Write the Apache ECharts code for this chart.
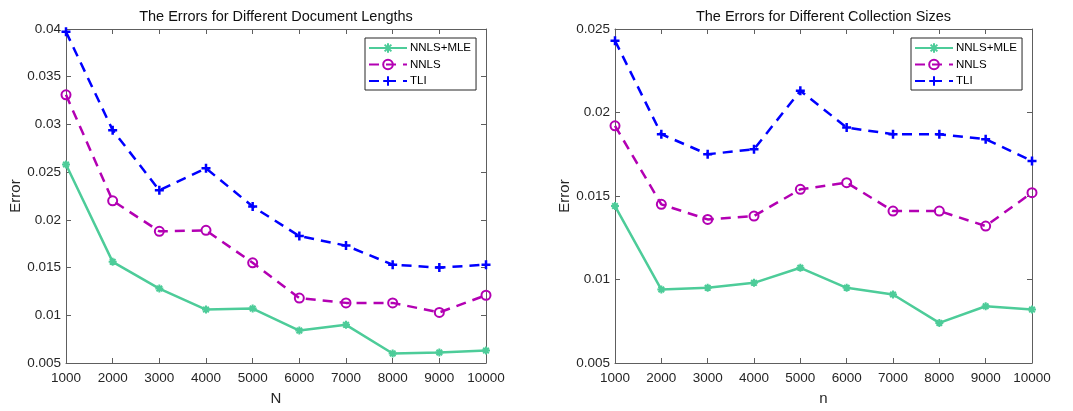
<!DOCTYPE html>
<html>
<head>
<meta charset="utf-8">
<title>Errors for Different Document Lengths and Collection Sizes</title>
<script src="https://cdn.jsdelivr.net/npm/echarts@6/dist/echarts.min.js"></script>
<style>
  html, body { margin: 0; padding: 0; background: #fff; }
  #chart { width: 1073px; height: 411px; }
</style>
</head>
<body>
<div id="chart"></div>
<script>
// Sample sizes shared by both panels
const sizes = [1000, 2000, 3000, 4000, 5000, 6000, 7000, 8000, 9000, 10000];

// Left panel: error vs. document length N
const mleByLength  = [0.0258, 0.0156, 0.0128, 0.0106, 0.0107, 0.0084, 0.0090, 0.0060, 0.0061, 0.0063];
const nnlsByLength = [0.0331, 0.0220, 0.0188, 0.0189, 0.0155, 0.0118, 0.0113, 0.0113, 0.0103, 0.0121];
const tliByLength  = [0.0397, 0.0294, 0.0231, 0.0254, 0.0214, 0.0183, 0.0173, 0.0153, 0.0150, 0.0153];

// Right panel: error vs. collection size n
const mleBySize  = [0.0144, 0.0094, 0.0095, 0.0098, 0.0107, 0.0095, 0.0091, 0.0074, 0.0084, 0.0082];
const nnlsBySize = [0.0192, 0.0145, 0.0136, 0.0138, 0.0154, 0.0158, 0.0141, 0.0141, 0.0132, 0.0152];
const tliBySize  = [0.0243, 0.0187, 0.0175, 0.0178, 0.0213, 0.0191, 0.0187, 0.0187, 0.0184, 0.0171];

const seriesNames = ['NNLS+MLE', 'NNLS', 'TLI'];
const titles = ['The Errors for Different Document Lengths', 'The Errors for Different Collection Sizes'];
const xNames = ['N', 'n'];
const yMax = [0.04, 0.025];

const FONT = '"Liberation Sans", Arial, Helvetica, sans-serif';
const AXIS_COLOR = '#5e5e5e';
const TEXT_COLOR = '#262626';

const GREEN = '#4dcc99';
const MAGENTA = '#b300b3';
const BLUE = '#0000ff';

// Marker shapes drawn as stroked open paths
const PLUS = 'path://M0,5L10,5M5,0L5,10';
const STAR = 'path://M0,5L10,5M5,0L5,10M1.5,1.5L8.5,8.5M1.5,8.5L8.5,1.5';

const fmtY = v => String(Number(v.toFixed(4)));
const fmtX = v => String(Math.round(v));
const pairs = ys => sizes.map((x, i) => [x, ys[i]]);

const grids = [
  { left: 66, top: 29, width: 420, height: 340 },
  { left: 615, top: 29, width: 417, height: 340 }
];

const xAxes = [];
const yAxes = [];
grids.forEach((g, gi) => {
  const common = {
    gridIndex: gi,
    type: 'value',
    min: 1000, max: 10000, interval: 1000,
    axisLine: { show: true, onZero: false, lineStyle: { color: AXIS_COLOR, width: 1 } },
    axisTick: { show: true, inside: true, length: 5, lineStyle: { color: AXIS_COLOR } },
    splitLine: { show: false }
  };
  xAxes.push(Object.assign({}, common, {
    position: 'bottom',
    name: xNames[gi], nameLocation: 'middle', nameGap: 28,
    nameTextStyle: { fontFamily: FONT, fontSize: 15, color: TEXT_COLOR },
    axisLabel: { show: true, fontFamily: FONT, fontSize: 13.5, color: TEXT_COLOR, margin: 8, formatter: fmtX, showMinLabel: true, showMaxLabel: true }
  }));
  xAxes.push(Object.assign({}, common, {
    position: 'top',
    name: titles[gi], nameLocation: 'middle', nameGap: 5,
    nameTextStyle: { fontFamily: FONT, fontSize: 14.5, color: '#111', verticalAlign: 'bottom' },
    axisLabel: { show: false }
  }));
  const ycommon = {
    gridIndex: gi,
    type: 'value',
    min: 0.005, max: yMax[gi], interval: 0.005,
    axisLine: { show: true, onZero: false, lineStyle: { color: AXIS_COLOR, width: 1 } },
    axisTick: { show: true, inside: true, length: 5, lineStyle: { color: AXIS_COLOR } },
    splitLine: { show: false }
  };
  yAxes.push(Object.assign({}, ycommon, {
    position: 'left',
    name: 'Error', nameLocation: 'middle', nameGap: 42, nameRotate: 90,
    nameTextStyle: { fontFamily: FONT, fontSize: 15, color: TEXT_COLOR },
    axisLabel: { show: true, fontFamily: FONT, fontSize: 13.5, color: TEXT_COLOR, margin: 5, formatter: fmtY, showMinLabel: true, showMaxLabel: true }
  }));
  yAxes.push(Object.assign({}, ycommon, {
    position: 'right',
    axisLabel: { show: false }
  }));
});

function makeSeries(gi, name, values) {
  const base = {
    name: name,
    type: 'line',
    xAxisIndex: gi * 2,
    yAxisIndex: gi * 2,
    data: pairs(values),
    silent: true,
    emphasis: { disabled: true },
    z: 3
  };
  if (name === 'NNLS+MLE') {
    return Object.assign(base, {
      symbol: STAR, symbolSize: 8,
      lineStyle: { color: GREEN, width: 2.5, type: 'solid' },
      itemStyle: { color: GREEN, borderColor: GREEN, borderWidth: 2 }
    });
  }
  if (name === 'NNLS') {
    return Object.assign(base, {
      symbol: 'circle', symbolSize: 9,
      lineStyle: { color: MAGENTA, width: 2.5, type: [10, 7] },
      itemStyle: { color: 'rgba(255,255,255,0)', borderColor: MAGENTA, borderWidth: 2 }
    });
  }
  return Object.assign(base, {
    symbol: PLUS, symbolSize: 9,
    lineStyle: { color: BLUE, width: 2.5, type: [10, 7] },
    itemStyle: { color: BLUE, borderColor: BLUE, borderWidth: 2.5 }
  });
}

const series = [
  makeSeries(0, 'NNLS+MLE', mleByLength),
  makeSeries(0, 'NNLS', nnlsByLength),
  makeSeries(0, 'TLI', tliByLength),
  makeSeries(1, 'NNLS+MLE', mleBySize),
  makeSeries(1, 'NNLS', nnlsBySize),
  makeSeries(1, 'TLI', tliBySize)
];

const legendBase = {
  orient: 'vertical',
  top: 38,
  data: seriesNames,
  itemWidth: 38,
  itemHeight: 12,
  itemGap: 4.5,
  padding: [4, 5, 3, 3],
  backgroundColor: '#fff',
  borderColor: '#262626',
  borderWidth: 1,
  borderRadius: 0,
  selectedMode: false,
  textStyle: { fontFamily: FONT, fontSize: 11.5, color: '#000', padding: [0, 0, 0, -2] }
};

const option = {
  animation: false,
  backgroundColor: '#fff',
  grid: grids,
  xAxis: xAxes,
  yAxis: yAxes,
  legend: [
    Object.assign({}, legendBase, { left: 365 }),
    Object.assign({}, legendBase, { left: 911 })
  ],
  series: series
};

const chart = echarts.init(document.getElementById('chart'), null, { renderer: 'canvas' });
chart.setOption(option);
</script>
</body>
</html>
